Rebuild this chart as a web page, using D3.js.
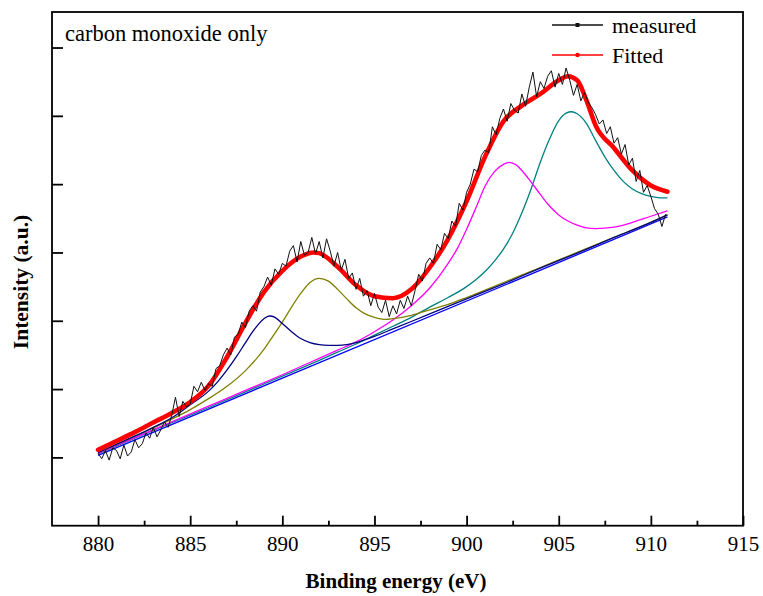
<!DOCTYPE html>
<html>
<head>
    <meta charset="utf-8">
    <title>XPS fit - carbon monoxide only</title>
    <script src="https://d3js.org/d3.v7.min.js"></script>
    <style>
        body { margin: 0; background: #fff; }
        text { font-family: "Liberation Serif", "Times New Roman", serif; }
    </style>
</head>
<body>
    <div id="chart"></div>
    <script>

        // tick values
        var xTicks = [880, 885, 890, 895, 900, 905, 910, 915];
        var xMinorTicks = [882.5, 887.5, 892.5, 897.5, 902.5, 907.5, 912.5];
        var yTicks = [1, 2, 3, 4, 5, 6, 7];

        // measured spectrum, sampled every 0.2 eV from 880 eV
        var measuredStart = 880, measuredStep = 0.2;
        var measured = [
            1.06, 0.98, 1.10, 0.96, 1.14, 1.10, 0.98, 1.18, 1.02, 1.08,
            1.26, 1.14, 1.20, 1.36, 1.28, 1.44, 1.30, 1.40, 1.52, 1.44,
            1.62, 1.88, 1.60, 1.82, 1.74, 1.78, 2.04, 1.96, 2.10, 1.98,
            2.08, 2.04, 2.30, 2.34, 2.50, 2.60, 2.50, 2.76, 2.80, 2.98,
            2.90, 3.14, 3.22, 3.14, 3.42, 3.50, 3.64, 3.52, 3.76, 3.68,
            3.84, 3.80, 4.02, 4.10, 3.86, 4.16, 3.96, 4.00, 4.22, 3.98,
            4.16, 3.92, 4.20, 4.02, 3.80, 4.00, 3.74, 3.90, 3.62, 3.70,
            3.46, 3.62, 3.36, 3.44, 3.22, 3.40, 3.20, 3.12, 3.30, 3.06,
            3.22, 3.10, 3.30, 3.18, 3.36, 3.22, 3.44, 3.68, 3.58, 3.84,
            3.92, 3.84, 4.12, 4.04, 4.28, 4.20, 4.46, 4.38, 4.72, 4.62,
            4.88, 5.00, 5.22, 5.18, 5.42, 5.50, 5.46, 5.84, 5.72, 5.96,
            6.10, 5.92, 6.18, 6.08, 6.04, 6.32, 6.14, 6.42, 6.64, 6.28,
            6.50, 6.40, 6.58, 6.66, 6.42, 6.62, 6.46, 6.70, 6.52, 6.30,
            6.46, 6.22, 6.34, 6.20, 6.12, 6.02, 5.88, 5.94, 5.74, 5.84,
            5.60, 5.68, 5.44, 5.58, 5.28, 5.38, 5.04, 5.20, 4.88, 4.98,
            4.82, 4.64, 4.56, 4.38, 4.56
        ];

        // fitted envelope [eV, intensity]
        var fitted = [
            [880, 1.11], [881, 1.24], [882, 1.37], [883, 1.51], [884, 1.65],
            [885, 1.81], [886, 2.05], [887, 2.47], [888, 2.97], [889, 3.42],
            [890, 3.73], [891, 3.94], [891.7, 4.00], [892, 3.99], [893, 3.79],
            [894, 3.52], [895, 3.36], [896, 3.33], [897, 3.46], [898, 3.78],
            [899, 4.20], [900, 4.75], [901, 5.40], [902, 5.92], [903, 6.15],
            [904, 6.32], [905, 6.52], [905.5, 6.58], [906, 6.52], [906.5, 6.23],
            [907, 5.86], [908, 5.53], [909, 5.20], [910, 4.98], [910.9, 4.89]
        ];

        // linear background
        var background = [[880, 1.03], [910.9, 4.52]];

        // peak components (each on top of the background)
        var peakNavy = [
            [880, 1.07], [881, 1.19], [882, 1.31], [883, 1.44], [884, 1.58],
            [885, 1.77], [886, 1.97], [886.5, 2.11], [887, 2.28], [887.5, 2.47],
            [888, 2.68], [888.5, 2.88], [889, 3.03], [889.3, 3.07], [889.6, 3.05],
            [890, 2.96], [890.5, 2.84], [891, 2.74], [891.5, 2.68], [892, 2.65],
            [892.5, 2.64], [893, 2.64], [893.5, 2.65], [894, 2.68], [895, 2.77],
            [896, 2.88], [898, 3.10], [900, 3.32], [902, 3.54], [904, 3.77],
            [906, 3.99], [908, 4.22], [910, 4.44], [910.9, 4.55]
        ];
        var peakOlive = [
            [880, 1.07], [882, 1.31], [884, 1.56], [885, 1.70], [886, 1.86],
            [887, 2.04], [888, 2.27], [889, 2.58], [889.5, 2.78], [890, 2.98],
            [890.5, 3.20], [891, 3.40], [891.5, 3.56], [892, 3.62], [892.5, 3.58],
            [893, 3.46], [893.5, 3.32], [894, 3.19], [894.5, 3.10], [895, 3.05],
            [895.6, 3.02], [896, 3.03], [897, 3.08], [898, 3.16], [899, 3.24],
            [900, 3.34], [902, 3.56], [904, 3.78], [906, 4.00], [908, 4.22],
            [910, 4.44], [910.9, 4.55]
        ];
        var peakMagenta = [
            [880, 1.06], [882, 1.29], [884, 1.52], [886, 1.75], [888, 1.98],
            [890, 2.21], [892, 2.45], [893, 2.57], [894, 2.69], [895, 2.84],
            [896, 3.01], [897, 3.22], [898, 3.48], [899, 3.84], [899.5, 4.06],
            [900, 4.34], [900.5, 4.65], [901, 4.97], [901.5, 5.18], [902, 5.29],
            [902.3, 5.32], [902.7, 5.28], [903, 5.20], [903.5, 5.03], [904, 4.85],
            [904.5, 4.68], [905, 4.55], [905.5, 4.46], [906, 4.40], [906.5, 4.36],
            [907, 4.35], [908, 4.37], [909, 4.44], [910, 4.53], [910.9, 4.61]
        ];
        var peakTeal = [
            [880, 1.05], [882, 1.28], [884, 1.51], [886, 1.73], [888, 1.96],
            [890, 2.19], [892, 2.42], [893, 2.54], [894, 2.66], [895, 2.79],
            [896, 2.92], [897, 3.05], [898, 3.20], [899, 3.34], [900, 3.50],
            [900.5, 3.60], [901, 3.72], [901.5, 3.87], [902, 4.05], [902.5, 4.28],
            [903, 4.58], [903.5, 4.93], [904, 5.32], [904.5, 5.66], [905, 5.93],
            [905.4, 6.04], [905.7, 6.06], [906, 6.03], [906.5, 5.89], [907, 5.64],
            [907.5, 5.40], [908, 5.20], [908.5, 5.04], [909, 4.93], [909.5, 4.86],
            [910, 4.82], [910.5, 4.80], [910.9, 4.80]
        ];

        var W = 763, H = 596;
        var plot = { left: 52, right: 743, top: 12, bottom: 525.7 };

        var svg = d3.select("#chart")
            .append("svg")
            .attr("width", W)
            .attr("height", H);

        var x = d3.scaleLinear().domain([877.5, 915]).range([plot.left, plot.right]);
        var y = d3.scaleLinear().domain([0, 7.52]).range([plot.bottom, plot.top]);

        var line = d3.line()
            .x(function(d) { return x(d[0]); })
            .y(function(d) { return y(d[1]); })
            .curve(d3.curveMonotoneX);

        // background and components
        svg.append("path").datum(background)
            .attr("d", line).attr("fill", "none")
            .attr("stroke", "#0000ff").attr("stroke-width", 1.3);

        var comps = [
            { data: peakTeal, color: "#008080" },
            { data: peakMagenta, color: "#ff00ff" },
            { data: peakOlive, color: "#808000" },
            { data: peakNavy, color: "#000080" }
        ];
        comps.forEach(function(c) {
            svg.append("path").datum(c.data)
                .attr("d", line).attr("fill", "none")
                .attr("stroke", c.color).attr("stroke-width", 1.3);
        });

        // fitted envelope
        svg.append("path").datum(fitted)
            .attr("d", line).attr("fill", "none")
            .attr("stroke", "#ff0000").attr("stroke-width", 4.6)
            .attr("stroke-linecap", "round");

        // measured
        var measuredPts = measured.map(function(v, i) {
            return [measuredStart + i * measuredStep, v];
        });
        svg.append("path").datum(measuredPts)
            .attr("d", d3.line()
                .x(function(d) { return x(d[0]); })
                .y(function(d) { return y(d[1]); }))
            .attr("fill", "none")
            .attr("stroke", "#111").attr("stroke-width", 1);

        // axes, ticks pointing inward
        var xAxis = svg.append("g")
            .attr("transform", "translate(0," + plot.bottom + ")")
            .call(d3.axisBottom(x).tickValues(xTicks).tickSizeInner(-10).tickSizeOuter(0).tickPadding(10.5));
        svg.append("g")
            .attr("transform", "translate(0," + plot.bottom + ")")
            .call(d3.axisBottom(x).tickValues(xMinorTicks).tickSizeInner(-5).tickSizeOuter(0).tickFormat(""));
        svg.append("g")
            .attr("transform", "translate(" + plot.left + ",0)")
            .call(d3.axisLeft(y).tickValues(yTicks).tickSizeInner(-11).tickSizeOuter(0).tickFormat(""));

        svg.selectAll(".domain").remove();
        svg.selectAll(".tick line").attr("stroke", "#000").attr("stroke-width", 1.8);
        xAxis.selectAll("text")
            .style("font-family", "'Liberation Serif', serif")
            .style("font-size", "21px")
            .attr("fill", "#000");

        // frame
        svg.append("rect")
            .attr("x", plot.left).attr("y", plot.top)
            .attr("width", plot.right - plot.left)
            .attr("height", plot.bottom - plot.top)
            .attr("fill", "none").attr("stroke", "#000").attr("stroke-width", 1.8);

        // axis titles
        svg.append("text")
            .attr("x", 396).attr("y", 588)
            .attr("text-anchor", "middle")
            .style("font-size", "21px").style("font-weight", "bold")
            .text("Binding energy (eV)");

        svg.append("text")
            .attr("transform", "translate(28,282) rotate(-90)")
            .attr("text-anchor", "middle")
            .style("font-size", "21.5px").style("font-weight", "bold")
            .text("Intensity (a.u.)");

        svg.append("text")
            .attr("x", 65).attr("y", 40.5)
            .style("font-size", "22.5px")
            .text("carbon monoxide only");

        // legend
        var legend = [
            { label: "measured", color: "#111", y: 25, marker: "square" },
            { label: "Fitted", color: "#ff0000", y: 55, marker: "dot" }
        ];
        legend.forEach(function(l) {
            svg.append("line")
                .attr("x1", 552).attr("x2", 603)
                .attr("y1", l.y).attr("y2", l.y)
                .attr("stroke", l.color).attr("stroke-width", 1.3);
            if (l.marker === "square") {
                svg.append("rect").attr("x", 575.5).attr("y", l.y - 2)
                    .attr("width", 4).attr("height", 4).attr("fill", l.color);
            } else {
                svg.append("circle").attr("cx", 577.5).attr("cy", l.y)
                    .attr("r", 2.2).attr("fill", l.color);
            }
            svg.append("text")
                .attr("x", 612).attr("y", l.y + 8)
                .style("font-size", "22px")
                .text(l.label);
        });

    </script>
</body>
</html>
